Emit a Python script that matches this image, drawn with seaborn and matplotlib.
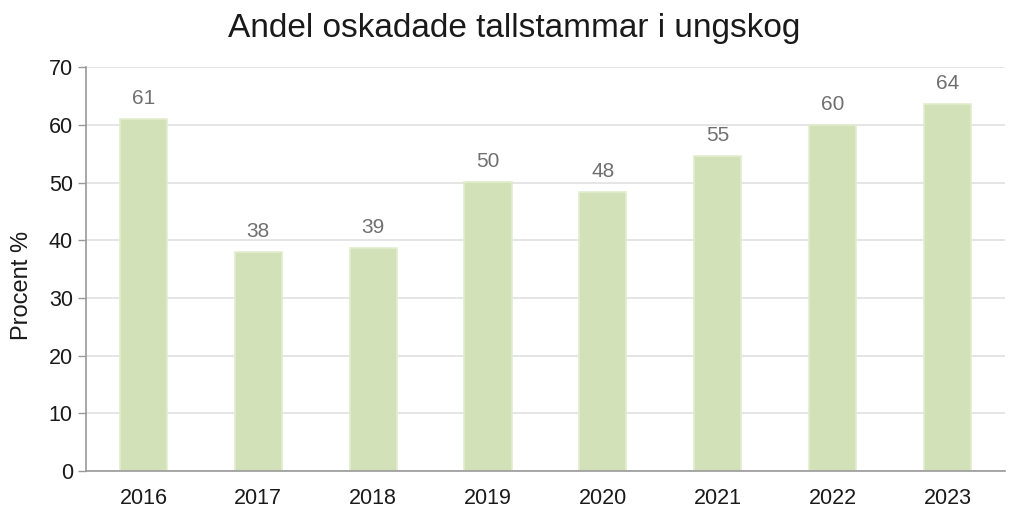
import pandas as pd
import numpy as np
import matplotlib
matplotlib.use('Agg')
import matplotlib.pyplot as plt
import seaborn as sns

years = ['2016', '2017', '2018', '2019', '2020', '2021', '2022', '2023']
values = [61.0, 38.0, 38.7, 50.1, 48.4, 54.6, 60.0, 63.6]
labels = ['61', '38', '39', '50', '48', '55', '60', '64']

df = pd.DataFrame({'year': years, 'value': values})

sns.set_theme(style='white')
plt.rcParams['font.family'] = ['Liberation Sans', 'DejaVu Sans']

fig = plt.figure(figsize=(10.16, 5.09), dpi=100)
ax = fig.add_axes([0.0846, 0.0747, 0.9044, 0.7933])

sns.barplot(data=df, x='year', y='value', color='#d3e1b8', width=0.41,
            edgecolor='#e2edcd', linewidth=1.2, saturation=1, ax=ax)

for i, (v, t) in enumerate(zip(values, labels)):
    ax.text(i, v + 1.9, t, ha='center', va='bottom', fontsize=15, color='#707070')

ax.set_ylim(0, 70)
ax.set_xlim(-0.5, len(years) - 0.5)
ax.set_yticks(range(0, 71, 10))
ax.yaxis.grid(True, color='#e0e0e0', linewidth=1.2)
ax.set_axisbelow(True)

ax.set_xticks(np.arange(-0.5, len(years), 1), minor=True)
ax.tick_params(axis='x', which='major', length=0, labelsize=15.5, pad=12, colors='#1a1a1a')
ax.tick_params(axis='x', which='minor', length=6, width=1, color='#999999', direction='out')
ax.tick_params(axis='y', which='major', length=6, width=1, color='#999999', labelsize=15.5,
               direction='out', left=True, labelcolor='#1a1a1a')

for s in ['top', 'right']:
    ax.spines[s].set_visible(False)
for s in ['left', 'bottom']:
    ax.spines[s].set_color('#999999')
    ax.spines[s].set_linewidth(1.2)

ax.set_xlabel('')
ax.set_ylabel('')
fig.text(22 / 1016, 1 - 285 / 509, 'Procent %', rotation=90, ha='center', va='center',
         fontsize=17, color='#1a1a1a')
fig.text(514 / 1016, 1 - 28 / 509, 'Andel oskadade tallstammar i ungskog', ha='center',
         va='center', fontsize=24, color='#1a1a1a')

plt.savefig('out.png', dpi=100)
